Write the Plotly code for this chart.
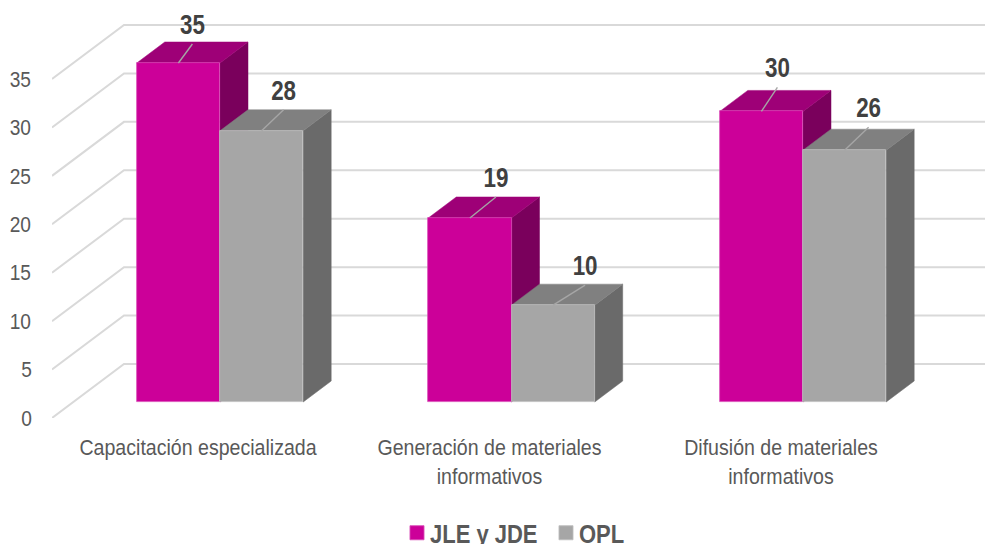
import plotly.graph_objects as go

categories = ["Capacitación especializada", "Generación de materiales<br>informativos", "Difusión de materiales<br>informativos"]
series_names = ["JLE y JDE", "OPL"]
jle_values = [35, 19, 30]
opl_values = [28, 10, 26]
y_ticks = [0, 5, 10, 15, 20, 25, 30, 35]

# label placement relative to bar top centre, in pixels
jle_label_dx = [14, 26, 16]
opl_label_dx = [22, 32, 24]
jle_leader_dy = [19, 21, 24]
opl_leader_dy = [21, 20, 23]

FONT = "Liberation Sans, Arial, sans-serif"
MAGENTA, MAG_TOP, MAG_SIDE = "#CC0099", "#9E0077", "#7A005C"
GRAY, GRAY_TOP, GRAY_SIDE = "#A6A6A6", "#808080", "#6A6A6A"
GRID = "#D9D9D9"

W, H = 985, 544
L, BOTTOM = 52, 418
PX_CAT, PX_VAL = 291.5, 9.686
x_min = (L - 220) / PX_CAT
x_max = (W - 220) / PX_CAT
y_max = BOTTOM / PX_VAL
BAR_W = 83.2 / PX_CAT
BAR_BASE = 16 / PX_VAL
DEPTH_X, DEPTH_V = 28 / PX_CAT, 21 / PX_VAL
WALL_X, WALL_V = 72 / PX_CAT, 54 / PX_VAL
TICK_SHIFT = -22 / PX_CAT

fig = go.Figure()

# walls: diagonal and back gridlines
for v in y_ticks:
    x0 = x_min
    fig.add_trace(go.Scatter(
        x=[x0, x0 + WALL_X, x_max], y=[v, v + WALL_V, v + WALL_V],
        mode="lines", line=dict(color=GRID, width=2), hoverinfo="skip", showlegend=False))


def face(xs, ys, color):
    fig.add_trace(go.Scatter(x=xs + xs[:1], y=ys + ys[:1], mode="lines", fill="toself", fillcolor=color,
                             line=dict(color=color, width=0.5), hoverinfo="skip", showlegend=False))


series = [(jle_values, -BAR_W / 2, MAG_TOP, MAG_SIDE), (opl_values, BAR_W / 2, GRAY_TOP, GRAY_SIDE)]
for values, off, top_c, side_c in series:
    for i, v in enumerate(values):
        cx = i + off
        x0, x1 = cx - BAR_W / 2, cx + BAR_W / 2
        y0, y1 = BAR_BASE, BAR_BASE + v
        face([x1, x1 + DEPTH_X, x1 + DEPTH_X, x1], [y0, y0 + DEPTH_V, y1 + DEPTH_V, y1], side_c)
        face([x0, x0 + DEPTH_X, x1 + DEPTH_X, x1], [y1, y1 + DEPTH_V, y1 + DEPTH_V, y1], top_c)

# front faces, on an overlaid subplot so they sit above the side faces
for name, values, off, color, edge in [(series_names[0], jle_values, -BAR_W / 2, MAGENTA, "#D94DB8"),
                                       (series_names[1], opl_values, BAR_W / 2, GRAY, "#BFBFBF")]:
    fig.add_trace(go.Bar(
        x=[i + off for i in range(len(values))], y=values, base=[BAR_BASE] * len(values),
        width=BAR_W, name=name, marker=dict(color=color, line=dict(width=0.75, color=edge)),
        xaxis="x2", yaxis="y2", hoverinfo="skip"))

# leader lines and value labels
for values, off, dxs, dys in [(jle_values, -BAR_W / 2, jle_label_dx, jle_leader_dy),
                              (opl_values, BAR_W / 2, opl_label_dx, opl_leader_dy)]:
    for i, v in enumerate(values):
        cx = i + off
        top = BAR_BASE + v
        ex = cx + dxs[i] / PX_CAT
        ey = top + dys[i] / PX_VAL
        fig.add_trace(go.Scatter(x=[cx, ex], y=[top, ey], mode="lines",
                                 line=dict(color="#A6A6A6", width=1.4), xaxis="x2", yaxis="y2",
                                 hoverinfo="skip", showlegend=False))
        fig.add_trace(go.Scatter(x=[ex], y=[ey + 17 / PX_VAL], mode="text", text=[str(v)],
                                 textposition="middle center",
                                 textfont=dict(family=FONT, size=28, color="#404040", weight="bold"),
                                 xaxis="x2", yaxis="y2", hoverinfo="skip", showlegend=False))

fig.update_layout(
    width=W, height=H, autosize=False,
    margin=dict(l=L, r=0, t=0, b=H - BOTTOM, pad=0, autoexpand=False),
    paper_bgcolor="white", plot_bgcolor="white",
    barmode="overlay", bargap=0,
    font=dict(family=FONT, color="#595959"),
    xaxis=dict(range=[x_min, x_max], tickmode="array",
               tickvals=[i + TICK_SHIFT for i in range(3)], ticktext=categories,
               showgrid=False, zeroline=False, showline=False,
               ticks="outside", ticklen=10, tickcolor="rgba(0,0,0,0)",
               tickfont=dict(family=FONT, size=22, color="#595959"), fixedrange=True),
    yaxis=dict(range=[0, y_max], tickmode="array", tickvals=y_ticks,
               showgrid=False, zeroline=False, showline=False,
               ticks="outside", ticklen=14, tickcolor="rgba(0,0,0,0)",
               tickfont=dict(family=FONT, size=22, color="#595959"), fixedrange=True),
    xaxis2=dict(range=[x_min, x_max], overlaying="x", visible=False, fixedrange=True),
    yaxis2=dict(range=[0, y_max], overlaying="y", visible=False, fixedrange=True),
    legend=dict(orientation="h", x=(397 - L) / (W - L), xanchor="left",
                y=(BOTTOM - 533) / BOTTOM, yanchor="middle",
                font=dict(family=FONT, size=25, color="#595959", weight="bold"),
                itemclick=False, itemdoubleclick=False, bgcolor="rgba(0,0,0,0)",
                traceorder="normal", entrywidth=104, entrywidthmode="pixels"),
)

# Page margin off; narrow the real text to the reference's condensed face (no narrow font installed)
post = """
document.body.style.margin = '0';
setTimeout(function () {
  function squeeze(sel, s, anchor, shift) {
    document.querySelectorAll(sel).forEach(function (t) {
      var b = t.getBBox();
      var ax = anchor === 'left' ? b.x : b.x + b.width / 2;
      var cur = t.getAttribute('transform') || '';
      t.setAttribute('transform', cur + ' translate(' + (ax + shift) + ' 0) scale(' + s + ' 1) translate(' + (-ax) + ' 0)');
    });
  }
  squeeze('.xtick text', 0.89, 'center', 0);
  squeeze('.ytick text', 0.87, 'center', 0);
  squeeze('.textpoint text', 0.8, 'center', 0);
  squeeze('.legendtext', 0.88, 'left', -7);
  document.querySelectorAll('.legendpoints path').forEach(function (p) {
    var cur = p.getAttribute('transform') || '';
    p.setAttribute('transform', cur + ' scale(1.17)');
  });
}, 30);
"""
fig.write_html("out.html", config={"displayModeBar": False}, post_script=post)
